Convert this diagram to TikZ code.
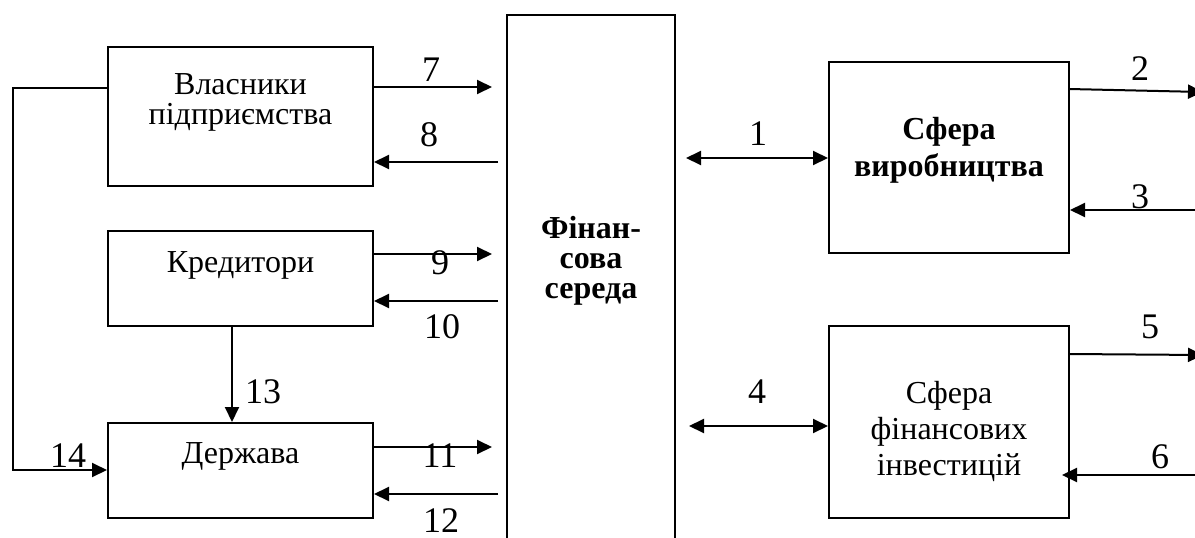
\documentclass[tikz,border=0pt]{standalone}
\usepackage{fontspec}
\setmainfont{Liberation Serif}
\usetikzlibrary{arrows.meta}
\begin{document}
\begin{tikzpicture}[x=1pt,y=-1pt,
  box/.style={draw,line width=2pt,inner sep=0pt},
  txt/.style={inner sep=0pt,font=\fontsize{32}{30}\selectfont,align=center},
  num/.style={inner sep=0pt,anchor=base,font=\fontsize{36}{40}\selectfont},
  arr/.style={line width=2pt,-{Triangle[length=15pt,width=14pt]}},
  darr/.style={line width=2pt,{Triangle[length=15pt,width=14pt]}-{Triangle[length=15pt,width=14pt]}},
  ln/.style={line width=2pt}]
\useasboundingbox (0,0) rectangle (1195,538);
\fill[white] (0,0) rectangle (1195,538);

% boxes
\node[box,minimum width=265pt,minimum height=139pt] (vlas) at (240.5,116.5) {};
\node[box,minimum width=265pt,minimum height=95pt] (kred) at (240.5,278.5) {};
\node[box,minimum width=265pt,minimum height=95pt] (derzh) at (240.5,470.5) {};
\node[box,line width=1.5pt,minimum width=168pt,minimum height=545pt] (fin) at (591,287.5) {};
\node[box,minimum width=240pt,minimum height=191pt] (virob) at (949,157.5) {};
\node[box,minimum width=240pt,minimum height=192pt] (inv) at (949,422) {};

% texts
\node[txt,anchor=north] (vlast) at (240.5,73) {Власники\\підприємства};
\node[txt,anchor=base] (kredt) at (240.5,272) {Кредитори};
\node[txt,anchor=base] (derzht) at (240.5,463) {Держава};
\node[txt,anchor=north,font=\fontsize{32}{30}\selectfont\bfseries] (fint) at (591,216) {Фінан-\\сова\\середа};
\node[txt,anchor=north,font=\fontsize{32}{37}\selectfont\bfseries] (virobt) at (949,117) {Сфера\\виробництва};
\node[txt,anchor=north,font=\fontsize{32}{36}\selectfont] (invt) at (949,381) {Сфера\\фінансових\\інвестицій};

% free ends
\coordinate (c7) at (492,87);
\coordinate (c8) at (498,162);
\coordinate (c9) at (492,254);
\coordinate (c10) at (498,301);
\coordinate (c11) at (492,447);
\coordinate (c12) at (498,494);
\coordinate (x13) at (232,0);
\coordinate (c14a) at (13,88);
\coordinate (c14b) at (13,470);
\coordinate (c1) at (686,158);
\coordinate (c4) at (689,426);
\coordinate (c2s) at (1069,89);
\coordinate (c2) at (1203,92);
\coordinate (c3) at (1200,210);
\coordinate (c5s) at (1069,354);
\coordinate (c5) at (1203,355);
\coordinate (c6) at (1200,475);

% connectors
\draw[arr] (vlas.east |- c7) -- (c7);
\draw[arr] (c8) -- (vlas.east |- c8);
\draw[arr] (kred.east |- c9) -- (c9);
\draw[arr] (c10) -- (kred.east |- c10);
\draw[arr] (derzh.east |- c11) -- (c11);
\draw[arr] (c12) -- (derzh.east |- c12);
\draw[arr] (kred.south -| x13) -- (derzh.north -| x13);
\draw[arr] (vlas.west |- c14a) -- (c14a) -- (c14b) -- (derzh.west |- c14b);
\draw[darr] (c1) -- (virob.west |- c1);
\draw[darr] (c4) -- (inv.west |- c4);
\draw[arr] (c2s) -- (c2);
\draw[arr] (c3) -- (virob.east |- c3);
\draw[arr] (c5s) -- (c5);
\draw[arr,shorten >=-8pt] (c6) -- (inv.east |- c6);

% labels
\node[num] (l7) at (431,81) {7};
\node[num] (l8) at (429,146) {8};
\node[num] (l9) at (440,274) {9};
\node[num] (l10) at (442,338) {10};
\node[num] (l11) at (440,467) {11};
\node[num] (l12) at (441,532) {12};
\node[num] (l13) at (263,403) {13};
\node[num] (l14) at (68,467) {14};
\node[num] (l1) at (758,145) {1};
\node[num] (l4) at (757,403) {4};
\node[num] (l2) at (1140,80) {2};
\node[num] (l3) at (1140,208) {3};
\node[num] (l5) at (1150,338) {5};
\node[num] (l6) at (1160,468) {6};
\end{tikzpicture}
\end{document}
